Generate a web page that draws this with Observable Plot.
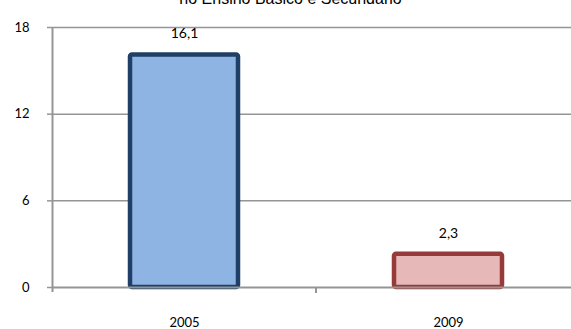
<!DOCTYPE html>
<html>
<head>
<meta charset="utf-8">
<script src="https://cdn.jsdelivr.net/npm/d3@7"></script>
<script src="https://cdn.jsdelivr.net/npm/@observablehq/plot@0.6"></script>
<style>
  html, body { margin: 0; padding: 0; background: #fff; overflow: hidden; width: 571px; height: 329px; }
  #wrap { position: relative; width: 571px; height: 329px; overflow: hidden; }
  #chart { position: absolute; top: 0; left: 0; }
  #chart svg { max-width: none !important; }
  #title { position: absolute; top: -11px; left: 0; width: 581px; text-align: center; z-index: 2;
           font-family: "Liberation Sans", Arial, sans-serif; font-size: 16px; line-height: 19px;
           color: #000; white-space: nowrap; }
</style>
</head>
<body>
<div id="wrap">
  <div id="chart"></div>
  <div id="title">no Ensino Básico e Secundário</div>
</div>
<script>
// Years and their values
const years = ["2005", "2009"];
const values = [16.1, 2.3];
const fills = ["#8EB4E3", "#E6B9B8"];
const strokes = ["#1F3F66", "#963B39"];
const yTicks = [0, 6, 12, 18];

const data = years.map((year, i) => ({year, value: values[i], fill: fills[i], stroke: strokes[i]}));
const fmt = v => String(v).replace(".", ",");
const grey = "#959595";
const tickFont = "Lato, 'Open Sans', sans-serif";

// Value-axis line and the small category divider tick on the baseline
function axisStubs(index, scales, values, dims) {
  const ns = "http://www.w3.org/2000/svg";
  const g = document.createElementNS(ns, "g");
  const line = (x1, y1, x2, y2) => {
    const l = document.createElementNS(ns, "line");
    l.setAttribute("x1", x1); l.setAttribute("y1", y1);
    l.setAttribute("x2", x2); l.setAttribute("y2", y2);
    l.setAttribute("stroke", grey); l.setAttribute("stroke-width", 2);
    g.appendChild(l);
  };
  const x0 = dims.marginLeft + 0.5;
  const y0 = scales.y(0);
  line(x0, scales.y(18), x0, y0 + 5);
  const bw = scales.x.bandwidth();
  const step = scales.x.step();
  years.slice(0, -1).forEach(yr => {
    const xm = scales.x(yr) + bw / 2 + step / 2;
    line(xm, y0, xm, y0 + 6);
  });
  return g;
}

const chart = Plot.plot({
  width: 581,
  height: 329,
  marginLeft: 52,
  marginRight: 0,
  marginTop: 27,
  marginBottom: 42,
  style: {fontFamily: tickFont, fontSize: "13px", color: "#000", background: "transparent", overflow: "visible"},
  x: {type: "band", domain: years, paddingInner: 0.59, paddingOuter: 0.295, label: null},
  y: {type: "linear", domain: [0, 18], label: null},
  marks: [
    // horizontal gridlines
    Plot.ruleY(yTicks.filter(d => d > 0), {stroke: grey, strokeWidth: 1.5, strokeOpacity: 1}),
    // value axis ticks and labels
    Plot.axisY(yTicks, {tickSize: 5, tickPadding: 18, stroke: grey, strokeWidth: 1.5, strokeOpacity: 1,
                        fontSize: 13, fill: "#000"}),
    // bars
    Plot.barY(data, {x: "year", y: "value", fill: "fill", stroke: "stroke", strokeWidth: 4.5, rx: 2}),
    // baseline
    Plot.ruleY([0], {stroke: grey, strokeWidth: 2, strokeOpacity: 1}),
    axisStubs,
    // category labels
    Plot.axisX({tickSize: 0, tickPadding: 30, fontSize: 13, fill: "#000"}),
    // value labels
    Plot.text(data, {x: "year", y: "value", text: d => fmt(d.value), dy: -21, fontSize: 14, fill: "#000"})
  ]
});
document.getElementById("chart").appendChild(chart);
</script>
</body>
</html>
